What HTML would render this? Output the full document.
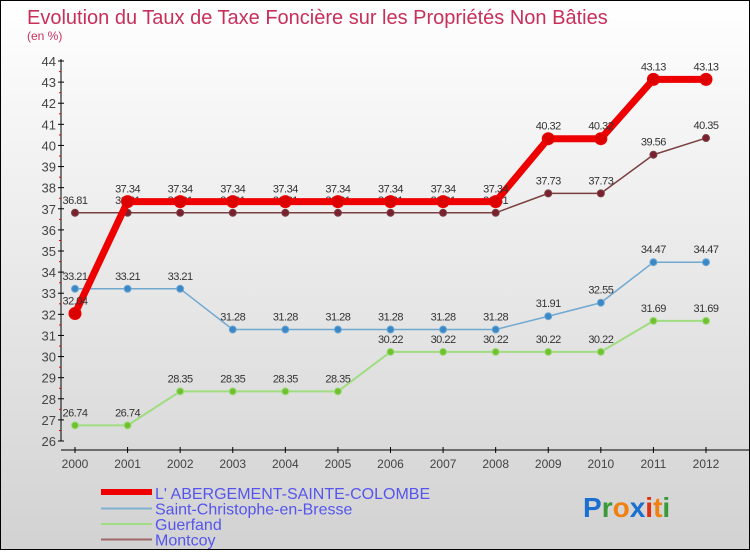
<!DOCTYPE html>
<html><head><meta charset="utf-8"><style>
body{margin:0;width:750px;height:550px;overflow:hidden}
#wrap{position:relative;width:748px;height:548px;border:1px solid #000;background:linear-gradient(#fff,#d2d2d2)}
text{font-family:"Liberation Sans",sans-serif}
</style></head><body>
<div id="wrap">
<svg id="chart" width="748" height="548">
<text x="26" y="23" font-size="20" fill="#c8305a">Evolution du Taux de Taxe Foncière sur les Propriétés Non Bâties</text>
<text x="26" y="39" font-size="12" fill="#c8305a">(en %)</text>
<g id="axes"></g><g id="series"></g><g id="legend"></g>
<text x="582" y="516" font-size="28" font-weight="bold"><tspan fill="#1a6fd0">P</tspan><tspan fill="#3a9a3a">r</tspan><tspan fill="#f08010">o</tspan><tspan fill="#1a6fd0">x</tspan><tspan fill="#e03010">i</tspan><tspan fill="#f08010">t</tspan><tspan fill="#3a9a3a">i</tspan></text>
</svg></div>
<script>
const years=[2000,2001,2002,2003,2004,2005,2006,2007,2008,2009,2010,2011,2012];
const yTicks=[26,27,28,29,30,31,32,33,34,35,36,37,38,39,40,41,42,43,44];
const abergement=[32.04,37.34,37.34,37.34,37.34,37.34,37.34,37.34,37.34,40.32,40.32,43.13,43.13];
const stChristophe=[33.21,33.21,33.21,31.28,31.28,31.28,31.28,31.28,31.28,31.91,32.55,34.47,34.47];
const guerfand=[26.74,26.74,28.35,28.35,28.35,28.35,30.22,30.22,30.22,30.22,30.22,31.69,31.69];
const montcoy=[36.81,36.81,36.81,36.81,36.81,36.81,36.81,36.81,36.81,37.73,37.73,39.56,40.35];
const NS="http://www.w3.org/2000/svg";
const xS=i=>74+i*(705-74)/(years.length-1);
const yS=v=>440-(v-26)*(380/18);
function mk(t,a,p){const e=document.createElementNS(NS,t);for(const k in a)e.setAttribute(k,a[k]);p.appendChild(e);return e;}
const ax=document.getElementById('axes');
let l=mk('line',{x1:60,y1:yS(44)-2,x2:60,y2:yS(26),stroke:'#000'},ax);


l=mk('line',{x1:60,y1:449,x2:748,y2:449,stroke:'#000'},ax);


yTicks.forEach(v=>{const y=yS(v);mk('line',{x1:57,y1:y,x2:63,y2:y,stroke:'#000'},ax);
if(v<44)mk('line',{x1:58,y1:y-10.5,x2:60,y2:y-10.5,stroke:'#e00'},ax);
const t=mk('text',{x:55,y:y+5,'text-anchor':'end','font-size':13,fill:'#444'},ax);t.textContent=v;

});
years.forEach((yr,i)=>{const x=xS(i);mk('line',{x1:x,y1:446,x2:x,y2:452,stroke:'#000'},ax);
const t=mk('text',{x:x,y:467,'text-anchor':'middle','font-size':12,fill:'#444'},ax);t.textContent=yr;

});
const sg=document.getElementById('series');
function series(data,name,col,dot,w,r,fs){
 const g=mk('g',{},sg);
 
 
 mk('polyline',{points:data.map((v,i)=>xS(i)+','+yS(v)).join(' '),fill:'none',stroke:col,'stroke-width':w,'stroke-linejoin':'round'},g);
 data.forEach((v,i)=>{const c=mk('circle',{cx:xS(i),cy:yS(v),r:r,fill:dot,stroke:col,'stroke-width':1},g);
 
 
 const t=mk('text',{x:xS(i),y:yS(v)-9,'text-anchor':'middle','font-size':11,fill:'#333','letter-spacing':'-0.5'},g);t.textContent=v.toFixed(2).replace(/0$/,'').replace(/\.$/,'');
 
 });
}
series(montcoy,'series-montcoy','#7a4040','#7a2030',1.5,3.5);
series(guerfand,'series-guerfand','#a0dc80','#70c030',2,3.5);
series(stChristophe,'series-saint-christophe','#70a8d0','#3a88c8',1.5,3.5);
series(abergement,'series-abergement','#ee0000','#dd0000',7,6);
const lg=document.getElementById('legend');
[['L\' ABERGEMENT-SAINTE-COLOMBE','#ee0000',6],['Saint-Christophe-en-Bresse','#80b0d0',2],['Guerfand','#a0dc80',2],['Montcoy','#a06868',2]].forEach((e,i)=>{
 const y=492+i*15.5;
 const g=mk('g',{},lg);
 
 
 mk('line',{x1:100,y1:y+(i==0?-1:0),x2:151,y2:y+(i==0?-1:0),stroke:e[1],'stroke-width':e[2]},g);
 const t=mk('text',{x:154,y:y+6,'font-size':16,fill:'#5555ee'},g);t.textContent=e[0];
});
</script>
</body></html>
